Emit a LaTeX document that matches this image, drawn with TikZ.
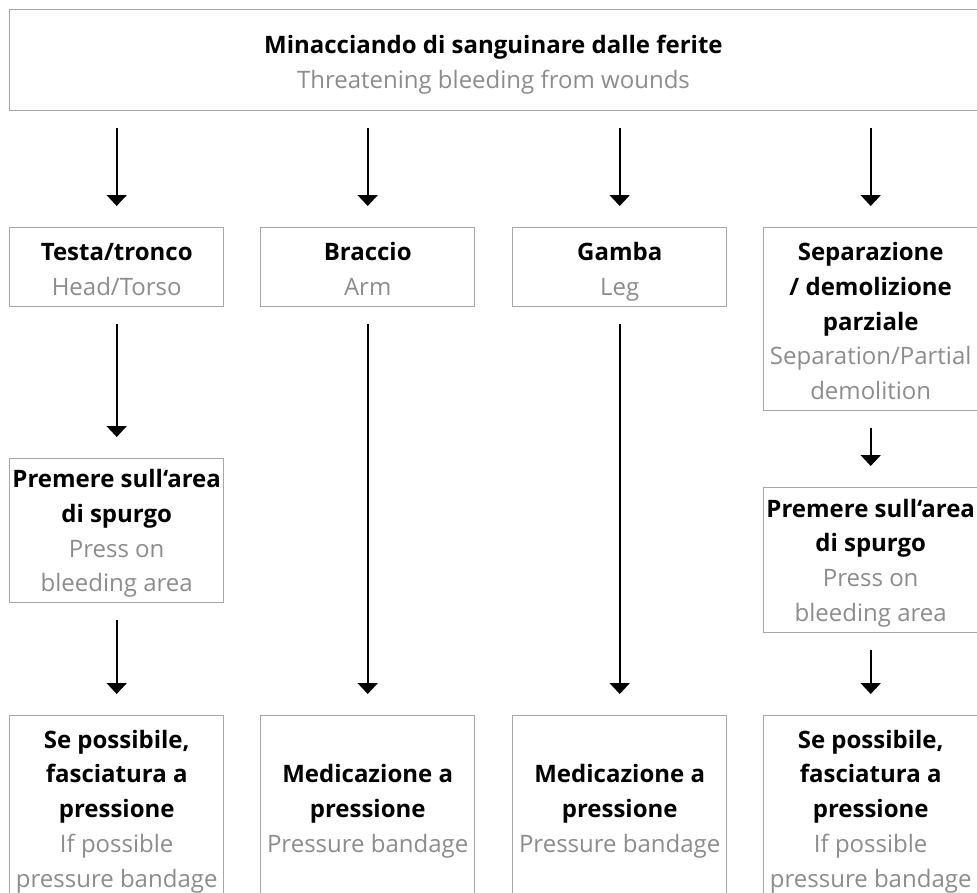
\documentclass[tikz,border=0pt]{standalone}
\usepackage{fontspec}
\setmainfont{Open Sans}
\usetikzlibrary{arrows.meta}
\definecolor{boxgray}{HTML}{A6A6A6}
\definecolor{txtgray}{HTML}{8C8C8C}
\tikzset{
  box/.style={draw=boxgray, line width=1.4pt, anchor=north west, inner sep=0pt,
    minimum width=214pt, align=center, font=\fontsize{24}{34.7}\selectfont},
  conn/.style={line width=2pt, -{Triangle[width=20pt,length=11pt]}, shorten <=17pt, shorten >=21pt}
}
\newcommand{\en}[1]{\strut\textcolor{txtgray}{#1}}
\newcommand{\itl}[1]{\strut\textbf{#1}}
\newcommand{\dnA}{\rule{0pt}{32.3pt}}
\newcommand{\dnB}{\rule{0pt}{28.3pt}}
\begin{document}
\begin{tikzpicture}[x=1pt,y=-1pt]
\useasboundingbox (0,0) rectangle (977,892);
\clip (0,0) rectangle (977,892);
\node[box, minimum width=967.5pt, minimum height=101pt] (top) at (9,9)
  {\dnA\itl{Minacciando di sanguinare dalle ferite}\\\en{Threatening bleeding from wounds}};
% row 2
\node[box, minimum height=79pt] (a1) at (9,227) {\dnA\itl{Testa/tronco}\\\en{Head/Torso}};
\node[box, minimum height=79pt] (b1) at (260,227) {\dnA\itl{Braccio}\\\en{Arm}};
\node[box, minimum height=79pt] (c1) at (512,227) {\dnA\itl{Gamba}\\\en{Leg}};
\node[box, minimum height=183pt] (d1) at (763,227)
  {\dnA\itl{Separazione}\\\itl{/ demolizione}\\\itl{parziale}\\\en{Separation/Partial}\\\en{demolition}};
% row 3
\node[box, minimum height=144pt] (a2) at (9,458)
  {\dnB\itl{Premere sull‘area}\\\itl{di spurgo}\\\en{Press on}\\\en{bleeding area}};
\node[box, minimum height=145pt] (d2) at (763,487)
  {\dnB\itl{Premere sull‘area}\\\itl{di spurgo}\\\en{Press on}\\\en{bleeding area}};
% row 4
\node[box, minimum height=186pt] (a3) at (9,715)
  {\dnB\itl{Se possibile,}\\\itl{fasciatura a}\\\itl{pressione}\\\en{If possible}\\\en{pressure bandage}};
\node[box, minimum height=186pt] (b3) at (260,715)
  {\dnB\itl{Medicazione a}\\\itl{pressione}\\\en{Pressure bandage}};
\node[box, minimum height=186pt] (c3) at (512,715)
  {\dnB\itl{Medicazione a}\\\itl{pressione}\\\en{Pressure bandage}};
\node[box, minimum height=186pt] (d3) at (763,715)
  {\dnB\itl{Se possibile,}\\\itl{fasciatura a}\\\itl{pressione}\\\en{If possible}\\\en{pressure bandage}};
% connectors
\draw[conn] (top.south -| a1.north) -- (a1.north);
\draw[conn] (top.south -| b1.north) -- (b1.north);
\draw[conn] (top.south -| c1.north) -- (c1.north);
\draw[conn] (top.south -| d1.north) -- (d1.north);
\draw[conn] (a1.south) -- (a2.north);
\draw[conn] (a2.south) -- (a3.north);
\draw[conn] (b1.south) -- (b3.north);
\draw[conn] (c1.south) -- (c3.north);
\draw[conn] (d1.south) -- (d2.north);
\draw[conn] (d2.south) -- (d3.north);
\end{tikzpicture}
\end{document}
